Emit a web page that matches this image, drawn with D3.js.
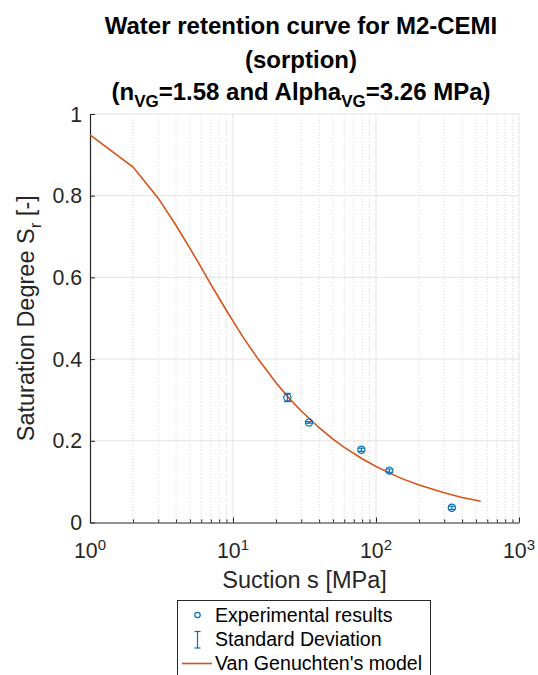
<!DOCTYPE html>
<html>
<head>
<meta charset="utf-8">
<script src="https://cdn.jsdelivr.net/npm/d3@7"></script>
<style>
  html, body { margin: 0; padding: 0; background: #fff; }
  svg { display: block; font-family: "Liberation Sans", Arial, sans-serif; }
</style>
</head>
<body>
<svg id="chart" width="538" height="675"></svg>
<script>
// ---- data ----
const curveSuction = [1, 2, 3, 4, 5, 6, 7, 8, 9, 10, 12, 15, 20, 25, 30, 40, 50, 60, 80, 100, 150, 200, 300, 400, 540];
const curveSr = [0.949, 0.870, 0.794, 0.727, 0.671, 0.624, 0.583, 0.549, 0.519, 0.493, 0.449, 0.400, 0.342, 0.302, 0.273, 0.232, 0.204, 0.184, 0.156, 0.137, 0.108, 0.092, 0.073, 0.061, 0.052];
const expSuction = [24, 34, 79, 124, 339];
const expSr = [0.306, 0.245, 0.178, 0.127, 0.036];
const expStd = [0.010, 0.002, 0.004, 0.004, 0.004];
const xMajorTicks = [1, 10, 100, 1000];
const xTickExponents = ["0", "1", "2", "3"];
const yTicks = [0, 0.2, 0.4, 0.6, 0.8, 1];
const yTickLabels = ["0", "0.2", "0.4", "0.6", "0.8", "1"];
const legendLabels = ["Experimental results", "Standard Deviation", "Van Genuchten's model"];

(function () {
// ---- layout ----
const pL = 90, pR = 519, pT = 114, pB = 522.5;
const blue = "#0072BD", orange = "#D95319", axisCol = "#262626";

const svg = d3.select("#chart");
svg.append("rect").attr("width", 538).attr("height", 675).attr("fill", "#fff");

const x = d3.scaleLog().domain([1, 1000]).range([pL, pR]);
const y = d3.scaleLinear().domain([0, 1]).range([pB, pT]);

// minor ticks values
const xMinor = [];
for (let d = 1; d < 1000; d *= 10) for (let k = 2; k <= 9; k++) xMinor.push(d * k);

// grid
const grid = svg.append("g");
grid.selectAll("line.minx").data(xMinor).join("line")
  .attr("x1", d => x(d)).attr("x2", d => x(d)).attr("y1", pT).attr("y2", pB)
  .attr("stroke", "#d6d6d6").attr("stroke-width", 1).attr("stroke-dasharray", "1,2");
grid.selectAll("line.majx").data(xMajorTicks.slice(1)).join("line")
  .attr("x1", d => x(d)).attr("x2", d => x(d)).attr("y1", pT).attr("y2", pB)
  .attr("stroke", "#e3e3e3").attr("stroke-width", 1);
grid.selectAll("line.majy").data(yTicks.slice(1)).join("line")
  .attr("x1", pL).attr("x2", pR).attr("y1", d => y(d)).attr("y2", d => y(d))
  .attr("stroke", "#e3e3e3").attr("stroke-width", 1);

// axes
svg.append("g").attr("transform", `translate(0,${pB})`)
  .call(d3.axisBottom(x).tickValues(xMajorTicks).tickSizeInner(-5).tickSizeOuter(0).tickFormat(""));
const xAxisMinor = svg.append("g").attr("transform", `translate(0,${pB})`)
  .call(d3.axisBottom(x).tickValues(xMinor).tickSizeInner(-3).tickSizeOuter(0).tickFormat(""));
xAxisMinor.select(".domain").remove();
svg.append("g").attr("transform", `translate(${pL},0)`)
  .call(d3.axisLeft(y).tickValues(yTicks).tickSizeInner(-5).tickSizeOuter(0).tickFormat(""));
svg.selectAll(".domain").attr("stroke", axisCol).attr("stroke-width", 1.2);
svg.selectAll(".tick line").attr("stroke", axisCol).attr("stroke-width", 1);

// x tick labels with superscript
const xl = svg.append("g");
xMajorTicks.forEach((v, i) => {
  const t = xl.append("text").attr("x", x(v)).attr("y", 558)
    .attr("text-anchor", "middle").attr("font-size", 21.3).attr("fill", axisCol);
  t.append("tspan").text("10");
  t.append("tspan").attr("dy", -8).attr("font-size", 15).text(xTickExponents[i]);
});
// y tick labels
svg.append("g").selectAll("text").data(yTicks).join("text")
  .attr("x", 82).attr("y", d => y(d) + 7.5).attr("text-anchor", "end")
  .attr("font-size", 21.3).attr("fill", axisCol).text((d, i) => yTickLabels[i]);

// axis labels
svg.append("text").attr("x", (pL + pR) / 2).attr("y", 588).attr("text-anchor", "middle")
  .attr("font-size", 23.5).attr("fill", axisCol).text("Suction s [MPa]");
const yl = svg.append("text").attr("transform", `translate(34,${(pT + pB) / 2}) rotate(-90)`)
  .attr("text-anchor", "middle").attr("font-size", 23.5).attr("fill", axisCol);
yl.append("tspan").text("Saturation Degree S");
yl.append("tspan").attr("dy", 7).attr("font-size", 17).text("r");
yl.append("tspan").attr("dy", -7).text(" [-]");

// title
const tx = 301;
const title = svg.append("g").attr("font-weight", "bold").attr("font-size", 24).attr("fill", "#000");
title.append("text").attr("x", tx).attr("y", 34).attr("text-anchor", "middle").text("Water retention curve for M2-CEMI");
title.append("text").attr("x", tx).attr("y", 68).attr("text-anchor", "middle").text("(sorption)");
const t3 = title.append("text").attr("x", tx).attr("y", 100).attr("text-anchor", "middle");
t3.append("tspan").text("(n");
t3.append("tspan").attr("dy", 7).attr("font-size", 17).text("VG");
t3.append("tspan").attr("dy", -7).text("=1.58 and Alpha");
t3.append("tspan").attr("dy", 7).attr("font-size", 17).text("VG");
t3.append("tspan").attr("dy", -7).text("=3.26 MPa)");

// curve
const line = d3.line().x((d, i) => x(curveSuction[i])).y(d => y(d));
svg.append("path").datum(curveSr).attr("d", line).attr("fill", "none")
  .attr("stroke", orange).attr("stroke-width", 1.6);

// experimental points + error bars
const pts = svg.append("g");
expSuction.forEach((s, i) => {
  const cx = x(s), y1 = y(expSr[i] + expStd[i]), y2 = y(expSr[i] - expStd[i]);
  pts.append("line").attr("x1", cx).attr("x2", cx).attr("y1", y1).attr("y2", y2)
    .attr("stroke", blue).attr("stroke-width", 1.2);
  [y1, y2].forEach(yy => pts.append("line").attr("x1", cx - 3.5).attr("x2", cx + 3.5)
    .attr("y1", yy).attr("y2", yy).attr("stroke", blue).attr("stroke-width", 1.2));
  pts.append("circle").attr("cx", cx).attr("cy", y(expSr[i])).attr("r", 3.6)
    .attr("fill", "none").attr("stroke", blue).attr("stroke-width", 1.2);
});

// legend
const lg = svg.append("g");
lg.append("rect").attr("x", 177.5).attr("y", 600.5).attr("width", 253).attr("height", 85)
  .attr("fill", "#fff").attr("stroke", axisCol).attr("stroke-width", 1);
const rowY = [615, 639.5, 663.5];
lg.append("circle").attr("cx", 197.5).attr("cy", rowY[0]).attr("r", 2.7)
  .attr("fill", "none").attr("stroke", blue).attr("stroke-width", 1.2);
lg.append("line").attr("x1", 197.5).attr("x2", 197.5).attr("y1", 631.5).attr("y2", 648).attr("stroke", blue).attr("stroke-width", 1.2);
lg.append("line").attr("x1", 194.5).attr("x2", 200.5).attr("y1", 631.5).attr("y2", 631.5).attr("stroke", blue).attr("stroke-width", 1.2);
lg.append("line").attr("x1", 194.5).attr("x2", 200.5).attr("y1", 648).attr("y2", 648).attr("stroke", blue).attr("stroke-width", 1.2);
lg.append("line").attr("x1", 182).attr("x2", 212).attr("y1", rowY[2]).attr("y2", rowY[2]).attr("stroke", orange).attr("stroke-width", 1.6);
lg.selectAll("text").data(legendLabels).join("text")
  .attr("x", 215).attr("y", (d, i) => rowY[i] + 6.5).attr("font-size", 19.6).attr("fill", "#000").text(d => d);
})();
</script>
</body>
</html>
